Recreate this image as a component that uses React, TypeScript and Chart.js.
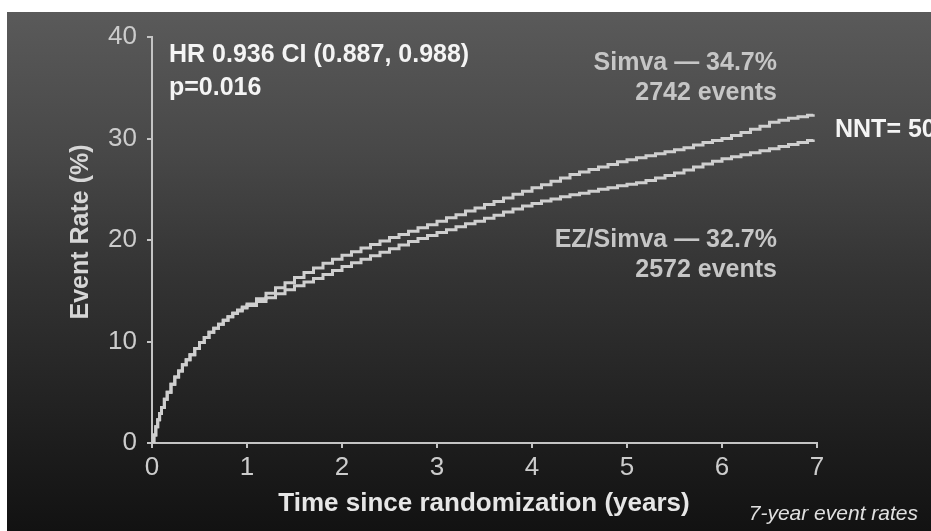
import React, { useEffect, useRef } from "react";
import { Chart, registerables } from "chart.js";

Chart.register(...registerables);

// Time since randomization (years)
const times = [
  0, 0.02, 0.04, 0.06, 0.08, 0.1, 0.13, 0.16, 0.2, 0.24, 0.28, 0.32, 0.36, 0.4, 0.45, 0.5,
  0.55, 0.6, 0.65, 0.7, 0.75, 0.8, 0.85, 0.9, 0.95, 1.0,
  1.1, 1.2, 1.3, 1.4, 1.5, 1.6, 1.7, 1.8, 1.9, 2.0,
  2.1, 2.2, 2.3, 2.4, 2.5, 2.6, 2.7, 2.8, 2.9, 3.0,
  3.1, 3.2, 3.3, 3.4, 3.5, 3.6, 3.7, 3.8, 3.9, 4.0,
  4.1, 4.2, 4.3, 4.4, 4.5, 4.6, 4.7, 4.8, 4.9, 5.0,
  5.1, 5.2, 5.3, 5.4, 5.5, 5.6, 5.7, 5.8, 5.9, 6.0,
  6.1, 6.2, 6.3, 6.4, 6.5, 6.6, 6.7, 6.8, 6.9, 6.96,
];

// Simva event rate (%)
const simvaRates = [
  0, 0.8, 1.6, 2.3, 2.9, 3.5, 4.3, 5.0, 5.8, 6.5, 7.1, 7.7, 8.2, 8.7, 9.3, 9.9,
  10.4, 10.9, 11.3, 11.7, 12.1, 12.45, 12.8, 13.1, 13.4, 13.7,
  14.2, 14.75, 15.3, 15.8, 16.3, 16.8, 17.25, 17.7, 18.1, 18.5,
  18.85, 19.2, 19.55, 19.9, 20.25, 20.55, 20.85, 21.2, 21.5, 21.85,
  22.2, 22.5, 22.85, 23.15, 23.5, 23.8, 24.15, 24.5, 24.8, 25.15,
  25.45, 25.8, 26.1, 26.45, 26.7, 26.95, 27.2, 27.45, 27.7, 27.9,
  28.1, 28.3, 28.5, 28.7, 28.9, 29.1, 29.35, 29.6, 29.8, 30.0,
  30.3, 30.6, 30.9, 31.2, 31.6, 31.8, 32.0, 32.15, 32.3, 32.4,
];

// EZ/Simva event rate (%)
const ezSimvaRates = [
  0, 0.8, 1.6, 2.3, 2.9, 3.5, 4.3, 5.0, 5.8, 6.5, 7.1, 7.7, 8.2, 8.7, 9.3, 9.9,
  10.4, 10.9, 11.3, 11.7, 12.1, 12.45, 12.75, 13.0, 13.3, 13.55,
  13.95, 14.3, 14.7, 15.1, 15.5, 15.85, 16.2, 16.6, 17.0, 17.4,
  17.75, 18.1, 18.45, 18.8, 19.15, 19.5, 19.85, 20.15, 20.45, 20.75,
  21.0, 21.3, 21.6, 21.85, 22.15, 22.45, 22.75, 23.05, 23.35, 23.6,
  23.85, 24.05, 24.25, 24.45, 24.6, 24.8, 25.0, 25.15, 25.35, 25.5,
  25.65, 25.85, 26.1, 26.35, 26.6, 26.9, 27.2, 27.5, 27.75, 28.0,
  28.2, 28.4, 28.6, 28.8, 29.0, 29.2, 29.4, 29.6, 29.8, 29.9,
];

const xTicks = [0, 1, 2, 3, 4, 5, 6, 7];
const yTicks = [0, 10, 20, 30, 40];

const SANS = '"Liberation Sans", Arial, Helvetica, sans-serif';
const NARROW = '"Liberation Sans Narrow", "Liberation Sans", Arial, sans-serif';

const backgroundPlugin = {
  id: "bgPanel",
  beforeDraw(chart: any) {
    const { ctx, width, height } = chart;
    ctx.save();
    ctx.fillStyle = "#ffffff";
    ctx.fillRect(0, 0, width, height);
    const g = ctx.createLinearGradient(0, 12, 0, height);
    g.addColorStop(0, "#5a5a5a");
    g.addColorStop(0.28, "#474747");
    g.addColorStop(0.5, "#343434");
    g.addColorStop(0.83, "#1d1d1d");
    g.addColorStop(1, "#121212");
    ctx.fillStyle = g;
    ctx.fillRect(7, 12, width - 7, height - 12);
    ctx.restore();
  },
};

const textPlugin = {
  id: "annotations",
  afterDraw(chart: any) {
    const { ctx } = chart;
    ctx.save();
    const bold = `bold 25px ${SANS}`;
    ctx.font = bold;
    ctx.textBaseline = "alphabetic";

    ctx.fillStyle = "#f4f4f4";
    ctx.textAlign = "left";
    ctx.fillText("HR 0.936 CI (0.887, 0.988)", 169, 62);
    ctx.fillText("p=0.016", 169, 95);
    ctx.fillText("NNT= 50", 835, 137);

    ctx.fillStyle = "#c6c6c6";
    ctx.textAlign = "right";
    ctx.fillText("Simva \u2014 34.7%", 777, 70);
    ctx.fillText("2742 events", 777, 100);
    ctx.fillText("EZ/Simva \u2014 32.7%", 777, 247);
    ctx.fillText("2572 events", 777, 277);

    // axis titles
    ctx.fillStyle = "#d6d6d6";
    ctx.textAlign = "center";
    ctx.save();
    ctx.translate(88, 232);
    ctx.rotate(-Math.PI / 2);
    ctx.fillText("Event Rate (%)", 0, 0);
    ctx.restore();

    ctx.fillStyle = "#e6e6e6";
    ctx.font = `bold 26px ${SANS}`;
    ctx.fillText("Time since randomization (years)", 484, 511);

    ctx.fillStyle = "#e0e0e0";
    ctx.textAlign = "right";
    ctx.font = `italic 21px ${NARROW}`;
    ctx.fillText("7-year event rates", 918, 520);
    ctx.restore();
  },
};

export default function App() {
  const canvasRef = useRef<HTMLCanvasElement | null>(null);

  useEffect(() => {
    document.body.style.margin = "0";
    const canvas = canvasRef.current;
    if (!canvas) return;
    const lineColor = "#cfcfcf";
    const axisColor = "#c4c4c4";
    const chart = new Chart(canvas, {
      type: "line",
      data: {
        datasets: [
          {
            label: "Simva",
            data: times.map((t, i) => ({ x: t, y: simvaRates[i] })),
            borderColor: lineColor,
            borderWidth: 3,
            pointRadius: 0,
            stepped: "before",
            fill: false,
          },
          {
            label: "EZ/Simva",
            data: times.map((t, i) => ({ x: t, y: ezSimvaRates[i] })),
            borderColor: lineColor,
            borderWidth: 3,
            pointRadius: 0,
            stepped: "before",
            fill: false,
          },
        ],
      },
      options: {
        responsive: false,
        animation: false,
        devicePixelRatio: 1,
        layout: { padding: { left: 0, top: 37, right: 114, bottom: 0 } },
        plugins: {
          legend: { display: false },
          tooltip: { enabled: false },
        },
        scales: {
          x: {
            type: "linear",
            min: 0,
            max: 7,
            afterFit: (s: any) => {
              s.height = 88;
            },
            afterBuildTicks: (s: any) => {
              s.ticks = xTicks.map((v) => ({ value: v }));
            },
            ticks: {
              color: "#cccccc",
              font: { family: NARROW, size: 26, lineHeight: 1.2 },
              padding: 4,
              maxRotation: 0,
            },
            grid: {
              display: true,
              drawOnChartArea: false,
              drawTicks: true,
              tickLength: 5,
              color: axisColor,
              lineWidth: 2,
            },
            border: { display: true, color: axisColor, width: 2 },
          },
          y: {
            type: "linear",
            min: 0,
            max: 40,
            afterFit: (s: any) => {
              s.width = 152;
            },
            afterBuildTicks: (s: any) => {
              s.ticks = yTicks.map((v) => ({ value: v }));
            },
            ticks: {
              color: "#cccccc",
              font: { family: NARROW, size: 26, lineHeight: 1.2 },
              padding: 10,
            },
            grid: {
              display: true,
              drawOnChartArea: false,
              drawTicks: true,
              tickLength: 5,
              color: axisColor,
              lineWidth: 2,
            },
            border: { display: true, color: axisColor, width: 2 },
          },
        },
      },
      plugins: [backgroundPlugin, textPlugin],
    });
    return () => chart.destroy();
  }, []);

  return (
    <div style={{ width: 931, height: 531 }}>
      <canvas ref={canvasRef} width={931} height={531} style={{ display: "block" }} />
    </div>
  );
}
